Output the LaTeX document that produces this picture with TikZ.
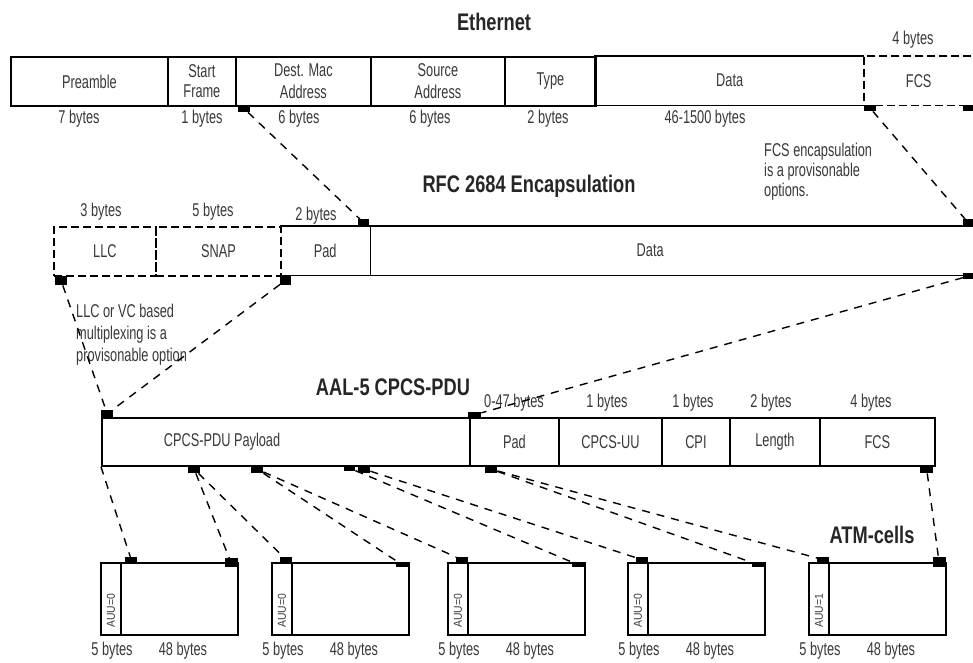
\documentclass[tikz,border=0pt]{standalone}
\usepackage{fontspec}
\setmainfont{Liberation Sans}[FakeStretch=0.69]
\newfontfamily\TitleFam{Liberation Sans}[FakeStretch=0.76]
\newfontfamily\AuFam{Liberation Sans}[FakeStretch=0.9]
\definecolor{TextClr}{gray}{0.22}
\newcommand\LbFont{\fontsize{18.5}{20}\selectfont}
\newcommand\HdFont{\TitleFam\fontsize{24}{26}\selectfont\bfseries}
\newcommand\AuFont{\AuFam\fontsize{11.5}{13}\selectfont}

\begin{document}
\begin{tikzpicture}[x=1pt,y=-1pt,
  field/.style={anchor=north west,inner sep=0pt,minimum height=49pt,align=center,font=\LbFont,text=TextClr},
  box/.style={draw,line width=1.8pt},
  dbox/.style={draw,line width=1.8pt,dash pattern=on 8pt off 4pt},
  edge/.style={line width=1.8pt},
  dedge/.style={line width=1.8pt,dash pattern=on 8pt off 4pt},
  bytes/.style={font=\LbFont,text=TextClr,inner sep=1pt},
  title/.style={font=\HdFont,text=black!85},
  note/.style={font=\LbFont,text=TextClr,align=left,anchor=west,inner sep=0pt},
  tab/.style={fill=black,inner sep=0pt,minimum width=11pt,minimum height=7pt,anchor=north west},
  cell/.style={draw,line width=1.8pt,anchor=north west,inner sep=0pt,minimum width=137pt,minimum height=72pt},
  auu/.style={font=\AuFont,text=TextClr,inner sep=0pt,rotate=90,anchor=west},
  link/.style={line width=1.4pt,dash pattern=on 8pt off 7pt}]
\useasboundingbox (0,0) rectangle (973,662);

% Ethernet
\node[title] (eth) at (494,22) {Ethernet};
\node[field,box,minimum width=157pt] (pre) at (10,56) {Preamble};
\node[field,box,minimum width=68pt] (sfd) at (167,56) {Start\\Frame};
\node[field,box,minimum width=135pt] (dst) at (235,56) {Dest. Mac\\[2pt]Address};
\node[field,box,minimum width=134pt] (src) at (370,56) {Source\\[2pt]Address};
\node[field,box,minimum width=91pt] (typ) at (504,56) {Type};
\node[field,minimum width=269pt] (edata) at (595,56) {Data};
\draw[edge] (edata.north east) -- (edata.north west) -- (edata.south west) -- (edata.south east);
\node[field,minimum width=109pt] (efcs) at (864,56) {FCS};
\draw[dedge] ([xshift=10pt]efcs.north east) -- (efcs.north west) -- (efcs.south west) -- ([xshift=10pt]efcs.south east);

\node[bytes] (eb1) at (79,119) {7 bytes};
\node[bytes] (eb2) at (202,119) {1 bytes};
\node[bytes] (eb3) at (299,119) {6 bytes};
\node[bytes] (eb4) at (430,119) {6 bytes};
\node[bytes] (eb5) at (548,119) {2 bytes};
\node[bytes] (eb6) at (705,119) {46-1500 bytes};
\node[bytes] (eb7) at (913,40) {4 bytes};

\node[tab,minimum width=12pt] (eDM) at (238,105) {};
\node[tab,minimum width=12pt,minimum height=6pt] (eFL) at (864,105) {};
\node[tab,minimum width=10pt,minimum height=6pt] (eFR) at (963,105) {};

% RFC 2684
\node[title] (rfc) at (529,186) {RFC 2684 Encapsulation};
\node[note] (fcsnote) at (764,172) {FCS encapsulation\\is a provisonable\\options.};
\node[field,dbox,minimum width=102pt] (llc) at (53,226) {LLC};
\node[field,dbox,minimum width=125pt] (snap) at (155,226) {SNAP};
\node[field,minimum width=90pt] (rpad) at (280,226) {Pad};
\draw[edge] (rpad.north west) -- (rpad.north east) -- (rpad.south east) -- (rpad.south west);
\node[field,minimum width=560pt] (rdata) at (370,226) {Data};
\draw[edge] (rdata.north west) -- ++(610,0);
\draw[edge] (rdata.south west) -- ++(610,0);

\node[bytes] (rb1) at (101,212) {3 bytes};
\node[bytes] (rb2) at (213,212) {5 bytes};
\node[bytes] (rb3) at (316,216) {2 bytes};

\node[tab] (rPad) at (358,219) {};
\node[tab,minimum width=12pt,minimum height=9pt] (rLLC) at (55,276) {};
\node[tab,minimum height=10pt] (rSN) at (280,275) {};
\node[tab,minimum width=10pt] (rDT) at (963,219) {};
\node[tab,minimum width=10pt,minimum height=6pt] (rDB) at (963,273) {};

\node[note] (llcnote) at (76,335) {LLC or VC based\\[2pt]multiplexing is a\\[2pt]provisonable option};

% AAL-5 CPCS-PDU
\node[title] (aal) at (393,387) {AAL-5 CPCS-PDU};
\node[field,box,minimum width=368pt,minimum height=48pt] (pay) at (101,417) {};
\node[bytes] (paytxt) at (222,442) {CPCS-PDU Payload};
\node[field,box,minimum width=89pt,minimum height=48pt] (apad) at (469,417) {Pad};
\node[field,box,minimum width=103pt,minimum height=48pt] (uu) at (558,417) {CPCS-UU};
\node[field,box,minimum width=68pt,minimum height=48pt] (cpi) at (661,417) {CPI};
\node[field,box,minimum width=90pt,minimum height=48pt] (len) at (729,417) {Length};
\node[field,box,minimum width=115pt,minimum height=48pt] (afcs) at (819,417) {FCS};

\node[bytes] (ab1) at (514,403) {0-47 bytes};
\node[bytes] (ab2) at (607,403) {1 bytes};
\node[bytes] (ab3) at (693,403) {1 bytes};
\node[bytes] (ab4) at (771,403) {2 bytes};
\node[bytes] (ab5) at (871,403) {4 bytes};

\node[tab,minimum width=12pt] (aPL) at (101,410) {};
\node[tab,minimum width=13pt,minimum height=5pt] (aPd) at (468,412) {};
\node[tab,minimum width=12pt,minimum height=8pt] (sB) at (188,465) {};
\node[tab,minimum width=12pt,minimum height=8pt] (sC) at (251,465) {};
\node[tab,minimum height=6pt] (sD) at (344,465) {};
\node[tab,minimum width=12pt,minimum height=8pt] (sE) at (358,465) {};
\node[tab,minimum width=12pt,minimum height=8pt] (sF) at (485,465) {};
\node[tab,minimum width=13pt,minimum height=8pt] (sG) at (920,465) {};

% ATM cells
\node[title] (atm) at (872,535) {ATM-cells};
\foreach \n/\x/\u/\hx/\rh in {1/100/0/25/9,2/271/0/9/5,3/447/0/9/5,4/627/0/9/5,5/808/1/9/10}{
  \node[cell] (c\n) at (\x,562) {};
  \draw[edge] ([xshift=21pt]c\n.north west) -- ([xshift=21pt]c\n.south west);
  \node[auu] (u\n) at (\x+11,628) {AUU=\u};
  \node[tab,minimum width=12pt,minimum height=5pt] (h\n) at (\x+\hx,557) {};
  \node[tab,anchor=north east,minimum width=13pt,minimum height=\rh pt] (r\n) at (\x+137.75,562-\rh+5) {};
  \node[bytes] (f\n) at (\x+12,651) {5 bytes};
  \node[bytes] (g\n) at (\x+83,651) {48 bytes};
}

% links
\draw[link] (eDM) -- (rPad);
\draw[link] (eFL) -- (rDT);
\draw[link] (rLLC) -- (aPL);
\draw[link] (rSN) -- (aPL);
\draw[link] (rDB) -- (aPd);
\draw[link] (pay.south west) -- (h1);
\draw[link] (sB) -- (r1);
\draw[link] (sB) -- (h2);
\draw[link] (sC) -- (r2);
\draw[link] (sC) -- (h3);
\draw[link] (sD) -- (r3);
\draw[link] (sE) -- (h4);
\draw[link] (sF) -- (r4);
\draw[link] (sF) -- (h5);
\draw[link] (sG) -- (r5);
\end{tikzpicture}
\end{document}
